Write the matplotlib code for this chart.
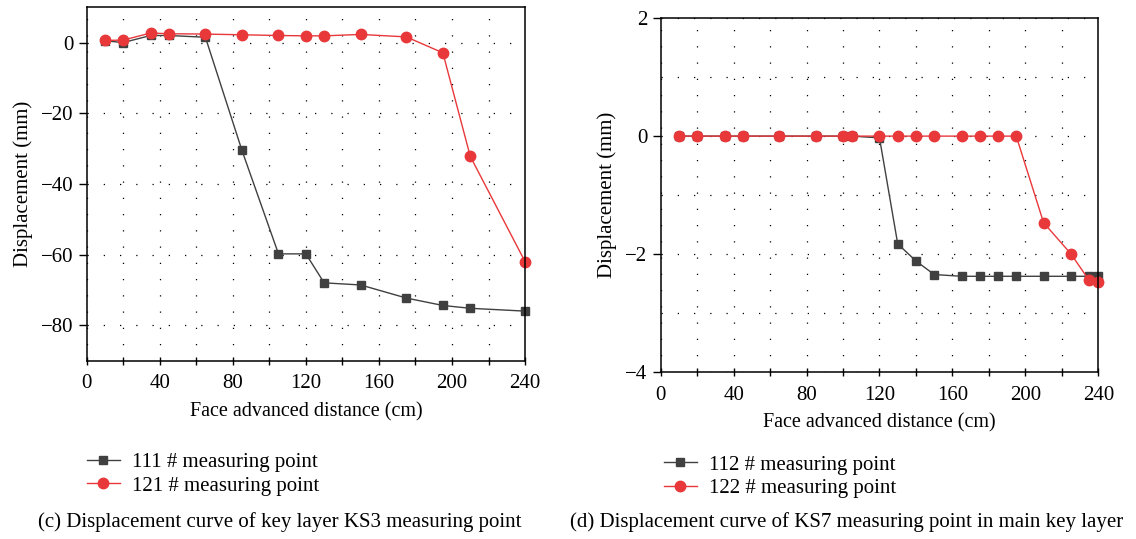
import matplotlib
matplotlib.use('Agg')
from matplotlib import pyplot as plt
from matplotlib.ticker import MultipleLocator

plt.rcParams['font.family'] = ['Liberation Serif', 'DejaVu Serif']
plt.rcParams['font.size'] = 15

# Panel (c) data
x_c = [10, 20, 35, 45, 65, 85, 105, 120, 130, 150, 175, 195, 210, 240]
p111 = [0.5, 0.0, 2.0, 2.0, 1.5, -30.5, -59.8, -59.8, -68.0, -68.6, -72.3, -74.4, -75.2, -76.0]
p121 = [0.6, 0.7, 2.7, 2.5, 2.4, 2.2, 2.0, 1.9, 1.9, 2.3, 1.6, -2.9, -32.2, -62.0]

# Panel (d) data
x_d = [10, 20, 35, 45, 65, 85, 100, 105, 120, 130, 140, 150, 165, 175, 185, 195, 210, 225, 235, 240]
p112 = [0, 0, 0, 0, 0, 0, 0, 0, -0.03, -1.83, -2.12, -2.35, -2.38, -2.38, -2.38, -2.38, -2.38, -2.38, -2.38, -2.38]
p122 = [0, 0, 0, 0, 0, 0, 0, 0, 0, 0, 0, 0, 0, 0, 0, 0, -1.47, -2.0, -2.45, -2.47]

black = '#404040'
red = '#e8383a'

fig = plt.figure(figsize=(11.36, 5.39), dpi=100)
ax1 = fig.add_axes([0.0763, 0.331, 0.3859, 0.6556])
ax2 = fig.add_axes([0.5816, 0.3104, 0.3852, 0.6556])


def style(ax):
    ax.set_xlim(0, 240)
    ax.xaxis.set_major_locator(MultipleLocator(40))
    ax.xaxis.set_minor_locator(MultipleLocator(20))
    ax.tick_params(axis='x', which='both', direction='inout', length=6, width=1, top=False, pad=7)
    ax.tick_params(axis='y', which='major', direction='out', length=6, width=1, right=False)
    ax.tick_params(axis='y', which='minor', length=0)
    ax.grid(True, which='both', color='black', linestyle=(0, (1, 12)), linewidth=0.9)
    for s in ax.spines.values():
        s.set_linewidth(1.1)
    ax.set_xlabel('Face advanced distance (cm)', fontsize=14.5, labelpad=6)
    ax.set_ylabel('Displacement (mm)', labelpad=6)


ax1.plot(x_c, p111, color=black, marker='s', markersize=6, linewidth=1, label='111 # measuring point', clip_on=False)
ax1.plot(x_c, p121, color=red, marker='o', markersize=7.5, linewidth=1, label='121 # measuring point', clip_on=False)
style(ax1)
ax1.set_ylim(-90, 10)
ax1.yaxis.set_major_locator(MultipleLocator(20))

ax2.plot(x_d, p112, color=black, marker='s', markersize=6, linewidth=1, label='112 # measuring point', clip_on=False)
ax2.plot(x_d, p122, color=red, marker='o', markersize=7.5, linewidth=1, label='122 # measuring point', clip_on=False)
style(ax2)
ax2.set_ylim(-4, 2)
ax2.yaxis.set_major_locator(MultipleLocator(2))
ax2.yaxis.set_minor_locator(MultipleLocator(1))

ax1.legend(loc='upper left', bbox_to_anchor=(0.067, 0.18), bbox_transform=fig.transFigure,
           frameon=False, handlelength=1.6, handletextpad=0.6, labelspacing=0.2, borderpad=0)
ax2.legend(loc='upper left', bbox_to_anchor=(0.575, 0.175), bbox_transform=fig.transFigure,
           frameon=False, handlelength=1.6, handletextpad=0.6, labelspacing=0.2, borderpad=0)

fig.text(0.246, 0.032, '(c) Displacement curve of key layer KS3 measuring point', ha='center', va='center')
fig.text(0.745, 0.032, '(d) Displacement curve of KS7 measuring point in main key layer', ha='center', va='center')

fig.savefig('out.png', dpi=100)
